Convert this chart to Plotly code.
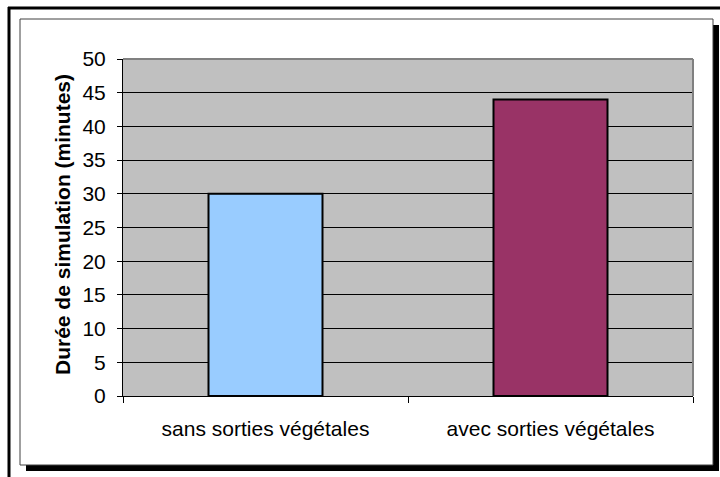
import plotly.graph_objects as go

categories = ["sans sorties végétales", "avec sorties végétales"]
durations = [30, 44]
bar_colors = ["#99CCFF", "#993366"]
y_title = "Durée de simulation (minutes)"

W, H = 720, 477
L, R, T, B = 123, 693, 59, 396  # plot area pixel box
FONT = "Liberation Sans, Arial, sans-serif"


def px(x):
    return (x - L) / (R - L)


def py(y):
    return (B - y) / (B - T)


fig = go.Figure()
fig.add_trace(go.Bar(
    x=categories, y=durations,
    marker=dict(color=bar_colors, line=dict(color="black", width=2)),
    width=0.4,
    hoverinfo="x+y",
))

shapes = [
    # shadow
    dict(type="rect", xref="paper", yref="paper", x0=px(26), x1=px(719), y0=py(25), y1=py(471),
         fillcolor="black", line=dict(width=0), layer="below"),
    # chart frame
    dict(type="rect", xref="paper", yref="paper", x0=px(20), x1=px(713), y0=py(19), y1=py(465),
         fillcolor="white", line=dict(color="#404040", width=1), layer="below"),
    # plot area
    dict(type="rect", xref="paper", yref="paper", x0=0, x1=1, y0=0, y1=1,
         fillcolor="#C0C0C0", line=dict(width=0), layer="below"),
    # plot area gray border top/right
    dict(type="line", xref="paper", yref="paper", x0=0, x1=1, y0=1, y1=1,
         line=dict(color="#808080", width=2), layer="above"),
    dict(type="line", xref="paper", yref="paper", x0=1, x1=1, y0=0, y1=1,
         line=dict(color="#808080", width=2), layer="above"),
    # outer page border (top and left)
    dict(type="line", xref="paper", yref="paper", x0=px(8), x1=px(721), y0=py(8), y1=py(8),
         line=dict(color="black", width=3), layer="below"),
    dict(type="line", xref="paper", yref="paper", x0=px(9), x1=px(9), y0=py(7), y1=py(478),
         line=dict(color="black", width=3), layer="below"),
]

fig.update_layout(
    width=W, height=H,
    margin=dict(l=L, r=W - R, t=T, b=H - B, pad=0),
    paper_bgcolor="white",
    plot_bgcolor="rgba(0,0,0,0)",
    font=dict(family=FONT, size=21, color="black"),
    showlegend=False,
    bargap=0.6,
    shapes=shapes,
    annotations=[dict(
        text=f"<b>{y_title}</b>", xref="paper", yref="paper",
        x=px(62), y=py(225), showarrow=False, textangle=-90,
        xanchor="center", yanchor="middle",
        font=dict(size=21, family=FONT, color="black"),
    )],
)

fig.update_yaxes(
    range=[0, 50], tick0=0, dtick=5,
    showgrid=True, gridcolor="black", gridwidth=1,
    showline=True, linecolor="black", linewidth=1,
    ticks="outside", ticklen=5, tickcolor="black",
    zeroline=False, ticklabelstandoff=7,
    fixedrange=True,
)
fig.update_xaxes(
    showgrid=False, showline=True, linecolor="black", linewidth=1,
    ticks="outside", ticklen=6, tickcolor="black", tickson="boundaries",
    ticklabelstandoff=14, fixedrange=True,
)

fig.write_html("out.html", config={"displayModeBar": False},
               post_script="document.body.style.margin='0';")
